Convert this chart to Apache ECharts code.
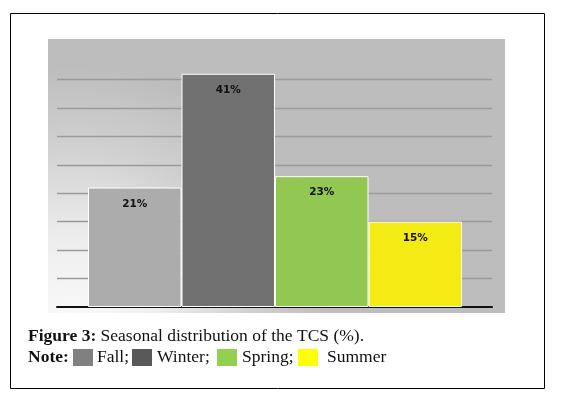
<!DOCTYPE html>
<html>
<head>
<meta charset="utf-8">
<script src="https://cdn.jsdelivr.net/npm/echarts@6/dist/echarts.min.js"></script>
<style>
  html, body { margin: 0; padding: 0; background: #fff; }
  #root { width: 561px; height: 399px; }
</style>
</head>
<body>
<div id="root"></div>
<script>
// seasons and share of TCS (%)
var seasons = ['Fall', 'Winter', 'Spring', 'Summer'];
var shares = [21, 41, 23, 15];
var barColors = ['#acacac', '#717171', '#92c851', '#f4ea14'];
var noteColors = ['#808080', '#595959', '#92d050', '#ffff00'];

var myChart = echarts.init(document.getElementById('root'), null, { renderer: 'canvas' });

var bars = shares.map(function (v, i) {
  return { value: v, itemStyle: { color: barColors[i] } };
});

var serif = '"Liberation Serif", "DejaVu Serif", serif';
var fs = 17.5;

// caption + legend note built as text/rects
var noteItems = [
  { x: 73, tx: 97, label: 'Fall;' },
  { x: 132, tx: 157, label: 'Winter;' },
  { x: 217, tx: 242, label: 'Spring;' },
  { x: 298, tx: 327, label: 'Summer' }
];
var graphics = [
  {
    type: 'rect', z: -10, silent: true,
    shape: { x: 10.5, y: 13.5, width: 534, height: 375 },
    style: { fill: '#fff', stroke: '#000', lineWidth: 1 }
  },
  {
    type: 'rect', z: -5, silent: true,
    shape: { x: 48, y: 39, width: 457, height: 274 },
    style: {
      fill: {
        type: 'radial', x: 0.05, y: 1.05, r: 0.95,
        colorStops: [
          { offset: 0, color: '#fbfbfb' },
          { offset: 0.35, color: '#ededed' },
          { offset: 0.7, color: '#d0d0d0' },
          { offset: 1, color: '#bdbdbd' }
        ]
      }
    }
  },
  {
    type: 'text', left: 28, top: 327, silent: true,
    style: {
      text: '{b|Figure 3:} Seasonal distribution of the TCS (%).',
      font: fs + 'px ' + serif, fill: '#111',
      rich: { b: { fontWeight: 'bold', fontSize: fs, fontFamily: serif, fill: '#111' } }
    }
  },
  {
    type: 'text', left: 28, top: 348, silent: true,
    style: { text: 'Note:', font: 'bold ' + fs + 'px ' + serif, fill: '#111' }
  }
];
noteItems.forEach(function (n, i) {
  graphics.push({
    type: 'rect', silent: true,
    shape: { x: n.x, y: 349, width: 20, height: 17 },
    style: { fill: noteColors[i] }
  });
  graphics.push({
    type: 'text', left: n.tx, top: 348, silent: true,
    style: { text: n.label, font: fs + 'px ' + serif, fill: '#111' }
  });
});

var option = {
  animation: false,
  backgroundColor: '#fff',
  grid: [
    { left: 57, right: 69, top: 51, bottom: 92 },
    { left: 88, right: 99, top: 51, bottom: 92 }
  ],
  xAxis: [
    {
      gridIndex: 0, type: 'category', data: seasons,
      axisLine: { show: true, lineStyle: { color: '#111', width: 2 } },
      axisTick: { show: false }, axisLabel: { show: false }
    },
    {
      gridIndex: 1, type: 'category', data: seasons,
      axisLine: { show: false }, axisTick: { show: false }, axisLabel: { show: false }
    }
  ],
  yAxis: [
    {
      gridIndex: 0, type: 'value', min: 0, max: 45, interval: 5,
      axisLine: { show: false }, axisTick: { show: false }, axisLabel: { show: false },
      splitLine: { show: true, showMinLine: false, showMaxLine: false, lineStyle: { color: '#9a9a9a', width: 1.3 } }
    },
    {
      gridIndex: 1, type: 'value', min: 0, max: 45, interval: 5,
      axisLine: { show: false }, axisTick: { show: false }, axisLabel: { show: false },
      splitLine: { show: false }
    }
  ],
  series: [
    {
      type: 'bar', xAxisIndex: 1, yAxisIndex: 1,
      data: bars,
      barCategoryGap: '0%',
      itemStyle: { borderColor: '#fff', borderWidth: 1 },
      label: {
        show: true, position: 'insideTop', distance: 11,
        formatter: '{c}%',
        fontFamily: '"DejaVu Sans", sans-serif', fontWeight: 'bold', fontSize: 10.5,
        color: '#111'
      }
    }
  ],
  graphic: graphics
};

option && myChart.setOption(option);
</script>
</body>
</html>
